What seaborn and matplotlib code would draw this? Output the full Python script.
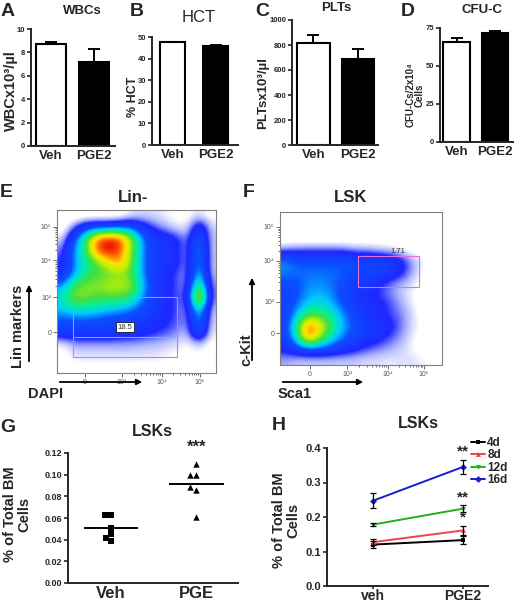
import matplotlib

matplotlib.use("Agg")

import matplotlib.pyplot as plt
import numpy as np
import pandas as pd
import seaborn as sns
from matplotlib.colors import LinearSegmentedColormap
from matplotlib.patches import FancyArrowPatch, Rectangle

W, H = 520, 604

# --- blood counts (A-D) ---
groups = ["Veh", "PGE2"]
wbc_mean = [8.7, 7.2]
wbc_err = [0.2, 1.1]
hct_mean = [47.5, 46.0]
hct_err = [0.4, 0.4]
plt_mean = [820, 690]
plt_err = [60, 75]
cfu_mean = [66, 72]
cfu_err = [2.5, 1.0]

# --- LSK frequency (G) ---
lsk_groups = ["Veh", "PGE"]
lsk_veh = [0.063, 0.063, 0.051, 0.0455, 0.0415, 0.039]
lsk_pge = [0.110, 0.100, 0.100, 0.089, 0.086, 0.061]

# --- LSK time course (H) ---
time_groups = ["veh", "PGE2"]
days = ["4d", "8d", "12d", "16d"]
d4_mean = [0.120, 0.133]
d4_err = [0.010, 0.012]
d8_mean = [0.127, 0.161]
d8_err = [0.008, 0.013]
d12_mean = [0.178, 0.224]
d12_err = [0.005, 0.010]
d16_mean = [0.247, 0.345]
d16_err = [0.022, 0.020]
day_colors = ["#000000", "#e8474f", "#22b022", "#1c1cc8"]
day_markers = ["s", "^", "v", "D"]

# --- flow density grids (rows top -> bottom) ---
lin_density = [
    [0, 0, 0, 0, 0, 0, .04, .05, .05, .04, .02, .02, .05, .02],
    [0, .10, .20, .22, .22, .25, .25, .18, .12, .08, .05, .04, .22, .06],
    [.05, .25, .45, .80, .90, .85, .60, .30, .20, .18, .15, .08, .30, .06],
    [.10, .30, .45, .80, .88, .82, .55, .30, .20, .18, .15, .08, .35, .06],
    [.12, .30, .40, .50, .65, .75, .55, .30, .20, .18, .15, .08, .35, .06],
    [.15, .30, .45, .50, .50, .55, .50, .30, .20, .15, .12, .08, .40, .06],
    [.30, .50, .55, .55, .60, .60, .60, .35, .20, .15, .12, .08, .55, .08],
    [.40, .55, .55, .50, .50, .50, .45, .30, .20, .15, .12, .10, .80, .08],
    [.35, .40, .40, .38, .35, .33, .30, .25, .20, .15, .12, .08, .45, .06],
    [.25, .25, .25, .24, .22, .22, .20, .18, .16, .14, .12, .08, .35, .05],
    [.20, .20, .20, .20, .20, .18, .18, .16, .14, .12, .10, .06, .30, .04],
    [.03, .08, .08, .08, .08, .08, .08, .07, .07, .06, .05, .03, .06, .02],
    [.02, .05, .05, .05, .05, .05, .05, .05, .05, .04, .03, .02, .03, .01],
    [0, .02, .02, .02, .02, .02, .02, .02, .02, .02, .01, 0, .01, 0],
]
lsk_density = [
    [0, 0, 0, 0, 0, 0, 0, 0, 0, 0, 0, 0, 0, 0],
    [0, 0, 0, 0, 0, 0, 0, 0, .01, 0, 0, 0, 0, 0],
    [0, 0, 0, 0, 0, 0, 0, 0, .01, .01, 0, 0, 0, 0],
    [.08, .10, .10, .10, .10, .10, .08, .08, .06, .05, .03, .01, 0, 0],
    [.30, .25, .25, .25, .25, .25, .22, .22, .22, .20, .15, .08, .03, 0],
    [.30, .28, .28, .28, .28, .27, .25, .22, .22, .20, .15, .08, .02, 0],
    [.25, .25, .30, .30, .28, .25, .20, .18, .15, .10, .08, .05, .01, 0],
    [.22, .25, .32, .33, .30, .22, .18, .15, .12, .10, .06, .03, .01, 0],
    [.20, .28, .36, .38, .33, .25, .20, .15, .15, .12, .08, .04, .01, 0],
    [.20, .35, .50, .50, .42, .30, .22, .18, .15, .12, .10, .05, .01, 0],
    [.22, .45, .85, .65, .46, .32, .25, .20, .18, .15, .10, .05, .02, 0],
    [.20, .40, .80, .55, .38, .28, .22, .18, .15, .12, .08, .04, .01, 0],
    [.15, .22, .25, .25, .22, .18, .15, .12, .10, .08, .06, .03, .01, 0],
    [.08, .06, .06, .06, .06, .06, .06, .05, .05, .04, .05, .05, .04, .02],
]
flow_ticklabels = ["0", "10³", "10⁴", "10⁵"]
lin_gate_pct = "18.5"
lsk_gate_pct = "1.71"

sns.set_style("ticks")
plt.rcParams["font.family"] = ["Liberation Sans", "DejaVu Sans"]
plt.rcParams["axes.linewidth"] = 1.4

fig = plt.figure(figsize=(W / 100, H / 100), dpi=100)


def rect(x0, y0, x1, y1):
    return [x0 / W, 1 - y1 / H, (x1 - x0) / W, (y1 - y0) / H]


def ftext(x, y, s, **kw):
    kw.setdefault("ha", "center")
    kw.setdefault("va", "center")
    fig.text(x / W, 1 - y / H, s, **kw)


def bold_ticks(ax, size_y, size_x):
    for lab in ax.get_yticklabels():
        lab.set_fontweight("bold")
        lab.set_fontsize(size_y)
    for lab in ax.get_xticklabels():
        lab.set_fontweight("bold")
        lab.set_fontsize(size_x)


def bar_panel(box, means, errs, width, xlim, ylim, yticks):
    ax = fig.add_axes(rect(*box))
    df = pd.DataFrame({"group": groups, "value": means})
    sns.barplot(data=df, x="group", y="value", hue="group", palette=["white", "black"],
                edgecolor="black", linewidth=1.5, width=width, errorbar=None,
                legend=False, ax=ax)
    ax.errorbar(x=[0, 1], y=means, yerr=[[0, 0], errs], fmt="none", ecolor="black",
                elinewidth=1.4, capsize=4, capthick=1.4)
    ax.set_xlim(*xlim)
    ax.set_ylim(*ylim)
    ax.set_yticks(yticks)
    ax.set_xlabel("")
    ax.set_ylabel("")
    ax.tick_params(axis="y", length=3, width=1.2, pad=1)
    ax.tick_params(axis="x", length=0, pad=3)
    sns.despine(ax=ax)
    bold_ticks(ax, 5.5, 9.5)
    return ax


bar_panel((31, 29, 115, 146), wbc_mean, wbc_err, 0.7, (-0.465, 1.49), (0, 10),
          [0, 2, 4, 6, 8, 10])
bar_panel((152, 37, 238, 145), hct_mean, hct_err, 0.58, (-0.477, 1.52), (0, 50),
          [0, 10, 20, 30, 40, 50])
bar_panel((292, 20, 378, 145), plt_mean, plt_err, 0.72, (-0.483, 1.45), (0, 1000),
          [0, 200, 400, 600, 800, 1000])
bar_panel((440, 28, 513, 142), cfu_mean, cfu_err, 0.68, (-0.43, 1.47), (0, 75),
          [0, 25, 50, 75])

ftext(11, 91, "WBCx10³/µl", fontsize=10.5, fontweight="bold", rotation=90)
ftext(133, 97, "% HCT", fontsize=9, fontweight="bold", rotation=90)
ftext(263, 93, "PLTsx10³/µl", fontsize=9.5, fontweight="bold", rotation=90)
ftext(415, 95, "CFU-Cs/2x10⁴\nCells", fontsize=7, fontweight="bold", rotation=90,
      linespacing=0.95)

ftext(82, 11, "WBCs", fontsize=9.5, fontweight="bold")
ftext(199, 17, "HCT", fontsize=12)
ftext(336, 8, "PLTs", fontsize=9.5, fontweight="bold")
ftext(482, 10, "CFU-C", fontsize=9.5, fontweight="bold")
for letter, x, y in [("A", 8, 12), ("B", 137, 12), ("C", 262, 12), ("D", 408, 12),
                     ("E", 6, 192), ("F", 249, 192), ("G", 8, 427), ("H", 279, 425)]:
    ftext(x, y, letter, fontsize=14, fontweight="bold")

# --- flow cytometry panels (E, F) ---
flow_cmap = LinearSegmentedColormap.from_list("flow", [
    (0, "white"), (0.03, "white"), (0.08, "#a0a8ff"), (0.13, "#1e28ff"),
    (0.26, "#0a50ff"), (0.34, "#00c8ff"), (0.42, "#00f0a0"), (0.5, "#40e040"),
    (0.6, "#c8f000"), (0.68, "#ffe000"), (0.76, "#ff8000"), (0.86, "#f01000"),
    (1.0, "#c00000")])


def decade_minors(majors):
    minors = []
    for a, b in zip(majors[:-1], majors[1:]):
        minors += [a + (b - a) * np.log10(k) for k in range(2, 10)]
    return minors


def flow_panel(box, grid, xt, yt, gate, label_xy, label, boxed):
    ax = fig.add_axes(rect(*box))
    ax.imshow(np.array(grid), cmap=flow_cmap, vmin=0, vmax=1, extent=[0, 1, 0, 1],
              interpolation="bicubic", aspect="auto", origin="upper")
    ax.set_xlim(0, 1)
    ax.set_ylim(0, 1)
    ax.set_xticks(xt)
    ax.set_yticks(yt)
    ax.set_xticklabels(flow_ticklabels)
    ax.set_yticklabels(flow_ticklabels)
    ax.set_xticks(decade_minors(xt[1:]), minor=True)
    ax.set_yticks(decade_minors(yt[1:]), minor=True)
    ax.tick_params(which="both", labelsize=5, colors="#555555", width=0.6, pad=1)
    ax.tick_params(which="major", length=3)
    ax.tick_params(which="minor", length=1.5)
    for sp in ax.spines.values():
        sp.set_linewidth(0.8)
        sp.set_color("#808080")
    x0, x1, y0, y1 = gate
    ax.add_patch(Rectangle((x0, y0), x1 - x0, y1 - y0, fill=False,
                           edgecolor="#e070e0", linewidth=0.8))
    bbox = dict(facecolor="white", edgecolor="black", linewidth=0.5, pad=1.2) if boxed else None
    ax.text(label_xy[0], label_xy[1], label, fontsize=5.5, ha="center", va="center",
            color="#333333", bbox=bbox)
    return ax


ax_e = flow_panel((57, 210, 216, 373), lin_density, [0.176, 0.409, 0.66, 0.90],
                  [0.25, 0.466, 0.693, 0.896], (0.10, 0.755, 0.098, 0.466),
                  (0.428, 0.282), lin_gate_pct, True)
ax_e.hlines(0.22, 0.11, 0.74, color="#30d0e0", linewidth=0.8)
flow_panel((280, 212, 442, 365), lsk_density, [0.185, 0.414, 0.667, 0.889],
           [0.209, 0.412, 0.68, 0.902], (0.48, 0.858, 0.51, 0.712),
           (0.728, 0.745), lsk_gate_pct, False)

ftext(133, 197, "Lin-", fontsize=12, fontweight="bold")
ftext(351, 197, "LSK", fontsize=12, fontweight="bold")
ftext(18, 326, "Lin markers", fontsize=10.5, fontweight="bold", rotation=90)
ftext(46, 394, "DAPI", fontsize=10.5, fontweight="bold")
ftext(246, 350, "c-Kit", fontsize=10.5, fontweight="bold", rotation=90)
ftext(295, 394, "Sca1", fontsize=10.5, fontweight="bold")


def farrow(p0, p1):
    fig.add_artist(FancyArrowPatch((p0[0] / W, 1 - p0[1] / H), (p1[0] / W, 1 - p1[1] / H),
                                   transform=fig.transFigure, arrowstyle="-|>",
                                   mutation_scale=8, linewidth=1.3, color="black"))


farrow((29, 364), (29, 282))
farrow((57, 382), (145, 382))
farrow((252, 363), (252, 275))
farrow((280, 382), (366, 382))

# --- G: LSK dot plot ---
ax_g = fig.add_axes(rect(68, 453, 238, 583))
df_g = pd.DataFrame({"group": ["Veh"] * len(lsk_veh) + ["PGE"] * len(lsk_pge),
                     "value": lsk_veh + lsk_pge})
sns.swarmplot(data=df_g[df_g.group == "Veh"], x="group", y="value", order=lsk_groups,
              marker="s", color="black", size=4.2, ax=ax_g)
sns.swarmplot(data=df_g[df_g.group == "PGE"], x="group", y="value", order=lsk_groups,
              marker="^", color="black", size=4.6, ax=ax_g)
for i, g in enumerate(lsk_groups):
    m = df_g.loc[df_g.group == g, "value"].mean()
    ax_g.hlines(m, i - 0.32, i + 0.32, color="black", linewidth=1.4)
ax_g.text(1, 0.1255, "***", ha="center", va="center", fontsize=12, fontweight="bold")
ax_g.set_xlim(-0.506, 1.49)
ax_g.set_ylim(0, 0.12)
ax_g.set_yticks(np.arange(0, 0.121, 0.02))
ax_g.yaxis.set_major_formatter(matplotlib.ticker.FormatStrFormatter("%.2f"))
ax_g.set_xlabel("")
ax_g.set_ylabel("")
ax_g.tick_params(axis="y", length=3, width=1.2, pad=1)
ax_g.tick_params(axis="x", length=0, pad=2)
sns.despine(ax=ax_g)
bold_ticks(ax_g, 6.5, 12)
ftext(17, 514, "% of Total BM\nCells", fontsize=10.5, fontweight="bold", rotation=90,
      linespacing=1.0)
ftext(152, 431, "LSKs", fontsize=11.5, fontweight="bold")

# --- H: LSK time course ---
ax_h = fig.add_axes(rect(327, 448, 488, 586))
day_means = [d4_mean, d8_mean, d12_mean, d16_mean]
day_errs = [d4_err, d8_err, d12_err, d16_err]
df_h = pd.DataFrame({
    "day": np.repeat(days, 2),
    "pos": [0, 1] * len(days),
    "value": np.concatenate(day_means),
    "err": np.concatenate(day_errs),
})
sns.lineplot(data=df_h, x="pos", y="value", hue="day", style="day", palette=day_colors,
             markers=day_markers, dashes=False, markersize=3.5, linewidth=1.4,
             markeredgewidth=0, ax=ax_h)
for d, c in zip(days, day_colors):
    sub = df_h[df_h.day == d]
    ax_h.errorbar(sub.pos, sub.value, yerr=sub.err, fmt="none", ecolor="black",
                  elinewidth=0.9, capsize=2.5, capthick=0.9)
for y, s in [(0.389, "**"), (0.257, "**"), (0.2, "*")]:
    ax_h.text(1, y, s, ha="center", va="center", fontsize=11, fontweight="bold")
ax_h.set_xlim(-0.51, 1.28)
ax_h.set_ylim(0, 0.4)
ax_h.set_yticks([0, 0.1, 0.2, 0.3, 0.4])
ax_h.set_xticks([0, 1])
ax_h.set_xticklabels(time_groups)
ax_h.yaxis.set_major_formatter(matplotlib.ticker.FormatStrFormatter("%.1f"))
ax_h.set_xlabel("")
ax_h.set_ylabel("")
ax_h.tick_params(axis="y", length=3, width=1.2, pad=1)
ax_h.tick_params(axis="x", length=2, width=1.2, pad=0)
sns.despine(ax=ax_h)
bold_ticks(ax_h, 8, 10)
ftext(286, 520, "% of Total BM\nCells", fontsize=10.5, fontweight="bold", rotation=90,
      linespacing=1.0)
ax_h.legend(loc="upper left", bbox_to_anchor=(466 / W, 1 - 432 / H),
            bbox_transform=fig.transFigure, frameon=False, handlelength=1.2,
            handletextpad=0.2, labelspacing=0.05, borderaxespad=0,
            prop={"size": 8.5, "weight": "bold"})
ftext(418, 423, "LSKs", fontsize=11.5, fontweight="bold")

fig.savefig("out.png", dpi=100)
plt.close(fig)
